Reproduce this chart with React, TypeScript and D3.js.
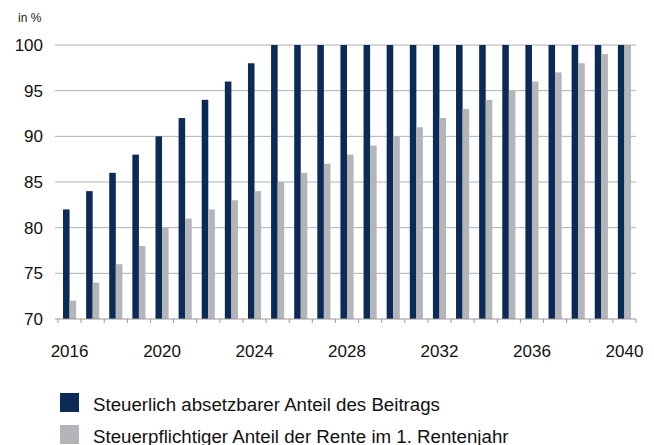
import * as d3 from "d3";

const years = d3.range(2016, 2041).map(String);
const absetzbar = [82, 84, 86, 88, 90, 92, 94, 96, 98, 100, 100, 100, 100, 100, 100, 100, 100, 100, 100, 100, 100, 100, 100, 100, 100];
const steuerpflichtig = [72, 74, 76, 78, 80, 81, 82, 83, 84, 85, 86, 87, 88, 89, 90, 91, 92, 93, 94, 95, 96, 97, 98, 99, 100];
const yTicks = [70, 75, 80, 85, 90, 95, 100];
const xLabels = ["2016", "2020", "2024", "2028", "2032", "2036", "2040"];
const seriesNames = ["Steuerlich absetzbarer Anteil des Beitrags", "Steuerpflichtiger Anteil der Rente im 1. Rentenjahr"];
const colors = ["#0b2a55", "#b3b5b8"];

const width = 654;
const height = 445;
const font = "'Liberation Sans', Arial, sans-serif";

export default function App() {
  const x = d3.scaleBand().domain(years).range([58, 636]);
  const inner = d3.scaleBand().domain(["a", "b"]).range([5, x.bandwidth() - 5]);
  const y = d3.scaleLinear().domain([70, 100]).range([319, 45]);

  return (
    <svg width={width} height={height} style={{ position: "absolute", left: 0, top: 0, fontFamily: font }}>
      <text x={18} y={22} fontSize={12} fill="#222">in %</text>
      {yTicks.map((t) => (
        <g key={t}>
          {t > 70 && <line x1={55} x2={636} y1={y(t)} y2={y(t)} stroke="#b0b0b0" strokeWidth={1} />}
          <text x={43} y={y(t)} dy="0.36em" textAnchor="end" fontSize={17} fill="#111">{t}</text>
        </g>
      ))}
      {years.map((yr, i) => (
        <g key={yr}>
          <rect x={x(yr)! + inner("a")!} y={y(absetzbar[i])} width={inner.bandwidth()} height={y(70) - y(absetzbar[i])} fill={colors[0]} />
          <rect x={x(yr)! + inner("b")!} y={y(steuerpflichtig[i])} width={inner.bandwidth()} height={y(70) - y(steuerpflichtig[i])} fill={colors[1]} />
        </g>
      ))}
      <line x1={55} x2={636} y1={y(70)} y2={y(70)} stroke="#999" strokeWidth={1} />
      {years.map((yr) => (
        <line key={yr} x1={x(yr)!} x2={x(yr)!} y1={y(70)} y2={y(70) + 4} stroke="#999" />
      ))}
      <line x1={636} x2={636} y1={y(70)} y2={y(70) + 4} stroke="#999" />
      {xLabels.map((l) => (
        <text key={l} x={x(l)! + x.bandwidth() / 2} y={357} textAnchor="middle" fontSize={17} fill="#111">{l}</text>
      ))}
      {seriesNames.map((n, i) => (
        <g key={n} transform={`translate(60,${393 + i * 32})`}>
          <rect width={19} height={19} fill={colors[i]} />
          <text x={33} y={18} fontSize={18.7} fill="#111">{n}</text>
        </g>
      ))}
    </svg>
  );
}
